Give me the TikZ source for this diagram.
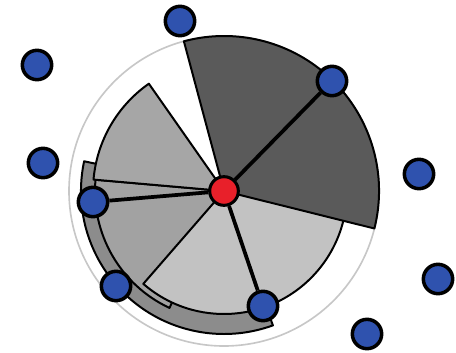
\documentclass[tikz,border=0pt]{standalone}
\begin{document}
\begin{tikzpicture}[x=0.03cm, y=0.03cm]
    % Estilo para los nodos
    \tikzstyle{blue_node} = [circle, draw=black, line width=3pt, fill=node_blue, minimum size=0.88cm, inner sep=0pt]
    \tikzstyle{red_node} = [circle, draw=black, line width=2.6pt, fill=node_red, minimum size=0.86cm, inner sep=0pt]

    % Estilo para las aristas y los sectores
    \tikzstyle{edge_style} = [-, line width=3.2pt, draw=black]
    \tikzstyle{sector_style} = [draw=black, line width=1.7pt, line join=round]

    \definecolor{node_blue}{HTML}{2F52AE}
    \definecolor{node_red}{HTML}{E8202A}
    \definecolor{sec_dark}{HTML}{5A5A5A}
    \definecolor{sec_mid}{HTML}{A6A6A6}
    \definecolor{sec_mid2}{HTML}{A2A2A2}
    \definecolor{sec_light}{HTML}{C2C2C2}
    \definecolor{sec_band}{HTML}{8C8C8C}

    \useasboundingbox (0,0) rectangle (456,352);

    % Centro del diagrama
    \coordinate (O) at (224,161);

    % Circulo exterior y sectores
    \draw[line width=1.4pt, draw=black!22] (O) circle (155);
    \draw[sector_style, fill=sec_band] (O) -- ++(168:143) arc[start angle=168, end angle=290, radius=143] -- cycle;
    \draw[sector_style, fill=sec_mid2] (O) -- ++(175:129) arc[start angle=175, end angle=245, radius=129] -- cycle;
    \draw[sector_style, fill=sec_mid] (O) -- ++(125:131) arc[start angle=125, end angle=175, radius=131] -- cycle;
    \draw[sector_style, fill=sec_light] (O) -- ++(229:123) arc[start angle=229, end angle=350, radius=123] -- cycle;
    \draw[sector_style, fill=sec_dark] (O) -- ++(-14:155) arc[start angle=-14, end angle=105, radius=155] -- cycle;

    % Nodos
    \node[red_node] (R) at (224,161) {};
    \node[blue_node] (B1) at (180,331) {};
    \node[blue_node] (B2) at (37,287) {};
    \node[blue_node] (B3) at (43,189) {};
    \node[blue_node] (B4) at (93,150) {};
    \node[blue_node] (B5) at (116,66) {};
    \node[blue_node] (B6) at (263,46) {};
    \node[blue_node] (B7) at (332,271) {};
    \node[blue_node] (B8) at (419,178) {};
    \node[blue_node] (B9) at (438,73) {};
    \node[blue_node] (B10) at (367,18) {};

    % Aristas
    \draw[edge_style] (R) to (B7);
    \draw[edge_style] (R) to (B4);
    \draw[edge_style] (R) to (B6);

\end{tikzpicture}
\end{document}
